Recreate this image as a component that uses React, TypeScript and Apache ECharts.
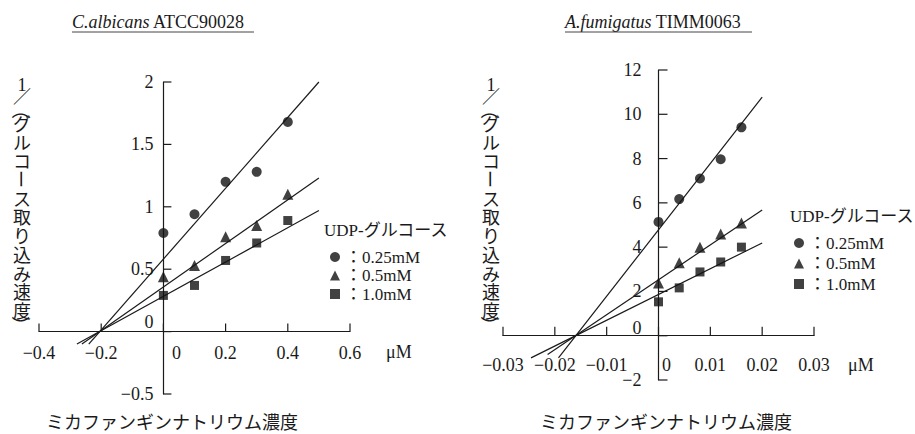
import React, { useEffect, useRef } from "react";
import * as echarts from "echarts";

// ---- data ----
const seriesNames = ["0.25mM", "0.5mM", "1.0mM"];
const seriesSymbols = ["circle", "triangle", "rect"];

// C.albicans ATCC90028
const caX = [0, 0.1, 0.2, 0.3, 0.4];
const caCircle = [0.79, 0.94, 1.2, 1.28, 1.68];
const caTriangle = [0.44, 0.53, 0.76, 0.85, 1.1];
const caSquare = [0.29, 0.37, 0.57, 0.71, 0.89];
const caFitCircle = [[-0.24, -0.1], [0.5, 2.0]];
const caFitTriangle = [[-0.262, -0.1], [0.5, 1.23]];
const caFitSquare = [[-0.278, -0.1], [0.5, 0.97]];
const caXAxis = [-0.4, 0.6, 0.2];
const caYAxis = [-0.5, 2, 0.5];
const caXTicks = [-0.4, -0.2, 0, 0.2, 0.4, 0.6];
const caYTicks = [-0.5, 0, 0.5, 1, 1.5, 2];

// A.fumigatus TIMM0063
const afX = [0, 0.004, 0.008, 0.012, 0.016];
const afCircle = [5.14, 6.17, 7.1, 7.97, 9.41];
const afTriangle = [2.38, 3.29, 4.0, 4.59, 5.09];
const afSquare = [1.53, 2.16, 2.88, 3.33, 4.0];
const afFitCircle = [[-0.0193, -1.0], [0.02, 10.77]];
const afFitTriangle = [[-0.0214, -0.85], [0.02, 5.68]];
const afFitSquare = [[-0.0246, -1.0], [0.02, 4.19]];
const afXAxis = [-0.03, 0.03, 0.01];
const afYAxis = [-2, 12, 2];
const afXTicks = [-0.03, -0.02, -0.01, 0, 0.01, 0.02, 0.03];
const afYTicks = [-2, 0, 2, 4, 6, 8, 10, 12];

const xUnit = "μM";
const legendTitle = "UDP-グルコース";
const xTitle = "ミカファンギンナトリウム濃度";
const yTitleHead = ["1", "／"];
const yTitleBody = ["グ", "ル", "コ", "ー", "ス", "取", "り", "込", "み", "速", "度"];
const yTitleOpen = "（";
const yTitleClose = "）";
const titleItalic = ["C.albicans", "A.fumigatus"];
const titleRest = [" ATCC90028", " TIMM0063"];

// ---- layout & styles ----
const ink = "#1a1a1a";
const serif = "'Liberation Serif', 'Noto Sans CJK JP', serif";
const cjk = "'Noto Sans CJK JP', sans-serif";
const gridA = { left: 39, top: 82, width: 311, height: 312 };
const gridB = { left: 503, top: 70, width: 311, height: 310 };
const tickPx = [8, 9];

function fmt(v: number) {
  if (Math.abs(v) < 1e-9) return "{z|0}";
  return String(+v.toFixed(4)).replace("-", "−");
}

const axisLineStyle = { show: true, onZero: false, lineStyle: { color: ink, width: 1.2 } };

function makeX(grid: number, g: any, range: number[], yRange: number[], margin: number, zeroShift: number) {
  const up = (g.height * (0 - yRange[0])) / (yRange[1] - yRange[0]);
  return {
    gridIndex: grid,
    type: "value",
    position: "bottom",
    offset: -up,
    min: range[0],
    max: range[1],
    interval: range[2],
    axisLine: axisLineStyle,
    axisTick: { show: false },
    splitLine: { show: false },
    axisLabel: {
      margin,
      formatter: fmt,
      color: ink,
      fontSize: 18,
      fontFamily: serif,
      rich: { z: { padding: [0, 0, 0, zeroShift * 2], fontSize: 18, fontFamily: serif, color: ink } },
    },
  };
}

function makeY(grid: number, g: any, range: number[], xRange: number[], margin: number, zeroUp: number) {
  const right = (g.width * (0 - xRange[0])) / (xRange[1] - xRange[0]);
  return {
    gridIndex: grid,
    type: "value",
    position: "left",
    offset: -right,
    min: range[0],
    max: range[1],
    interval: range[2],
    axisLine: axisLineStyle,
    axisTick: { show: false },
    splitLine: { show: false },
    axisLabel: {
      margin,
      formatter: fmt,
      color: ink,
      fontSize: 18,
      fontFamily: serif,
      rich: { z: { padding: [0, 0, zeroUp * 2, 0], fontSize: 18, fontFamily: serif, color: ink } },
    },
  };
}

// one short line series per tick, drawn in data space through the axes' scales
function tickLines(values: number[], dir: string, idx: number, g: any, xr: number[], yr: number[]) {
  const len = tickPx[idx];
  const dyUnits = (len * (yr[1] - yr[0])) / g.height;
  const dxUnits = (len * (xr[1] - xr[0])) / g.width;
  return values.map((v) => ({
    type: "line",
    name: "tick",
    xAxisIndex: idx,
    yAxisIndex: idx,
    symbol: "none",
    silent: true,
    clip: false,
    z: 4,
    lineStyle: { color: ink, width: 1.2 },
    data: dir === "x" ? [[v, 0], [v, dyUnits]] : [[0, v], [dxUnits, v]],
  }));
}

function scatter(name: string, symbol: string, xs: number[], ys: number[], idx: number) {
  return {
    type: "scatter",
    name,
    symbol,
    symbolSize: symbol === "triangle" ? 11 : symbol === "rect" ? 9 : 10,
    xAxisIndex: idx,
    yAxisIndex: idx,
    itemStyle: { color: "#111" },
    data: xs.map((x, i) => [x, ys[i]]),
    z: 3,
  };
}

function fit(data: number[][], idx: number) {
  return {
    type: "line",
    name: "fit",
    xAxisIndex: idx,
    yAxisIndex: idx,
    symbol: "none",
    clip: false,
    lineStyle: { color: ink, width: 1.2 },
    data,
    z: 2,
  };
}

function verticalTitle(cx: number) {
  const bodyStep = 18.7;
  const bodyTop = 123;
  const body = yTitleBody.map((c) => (c === "ー" ? " " : c)).join("\n");
  const dashIdx = yTitleBody.indexOf("ー");
  return [
    {
      type: "text",
      x: cx,
      y: 91,
      style: { text: yTitleHead.join("\n"), fill: ink, font: `18px ${serif}`, lineHeight: 12, align: "center", verticalAlign: "middle" },
    },
    {
      type: "text",
      x: cx,
      y: bodyTop - bodyStep / 2,
      style: { text: body, fill: ink, font: `18px ${cjk}`, lineHeight: bodyStep, align: "center", verticalAlign: "top" },
    },
    {
      type: "text",
      x: cx,
      y: bodyTop + dashIdx * bodyStep,
      rotation: -Math.PI / 2,
      style: { text: "ー", fill: ink, font: `18px ${cjk}`, lineHeight: 12, align: "center", verticalAlign: "middle" },
    },
    {
      type: "text",
      x: cx,
      y: 110,
      rotation: -Math.PI / 2,
      style: { text: yTitleOpen, fill: ink, font: `18px ${cjk}`, lineHeight: 12, align: "center", verticalAlign: "middle" },
    },
    {
      type: "text",
      x: cx,
      y: 325,
      rotation: -Math.PI / 2,
      style: { text: yTitleClose, fill: ink, font: `18px ${cjk}`, lineHeight: 12, align: "center", verticalAlign: "middle" },
    },
  ];
}

function title(i: number, x: number, underlineEnd: number) {
  return [
    {
      type: "text",
      x,
      y: 22,
      style: {
        text: `{i|${titleItalic[i]}}{r|${titleRest[i]}}`,
        rich: {
          i: { fontStyle: "italic", fontSize: 18, fontFamily: serif, fill: ink },
          r: { fontSize: 18, fontFamily: serif, fill: ink },
        },
        fill: ink,
        align: "left",
        verticalAlign: "middle",
      },
    },
    {
      type: "line",
      shape: { x1: x, y1: 32, x2: underlineEnd, y2: 32 },
      style: { stroke: "#444", lineWidth: 1 },
    },
  ];
}

function legend(left: number, top: number, gap: number) {
  return {
    orient: "vertical",
    left,
    top,
    itemWidth: 10,
    itemHeight: 10,
    itemGap: gap,
    selectedMode: false,
    formatter: (n: string) => "：" + n,
    textStyle: { color: ink, fontSize: 17, fontFamily: serif, lineHeight: 18 },
    data: seriesNames.map((n, i) => ({ name: n, icon: seriesSymbols[i], itemStyle: { color: "#111" } })),
  };
}

function plainText(text: string, x: number, y: number, font: string, align = "left") {
  return { type: "text", x, y, style: { text, fill: ink, font, align, verticalAlign: "middle", lineHeight: 18 } };
}

export default function App() {
  const ref = useRef<HTMLDivElement>(null);
  useEffect(() => {
    if (!ref.current) return;
    const chart = echarts.init(ref.current, undefined, { renderer: "svg" });
    chart.setOption({
      animation: false,
      backgroundColor: "#fff",
      grid: [gridA, gridB],
      xAxis: [makeX(0, gridA, caXAxis, caYAxis, 12, 13), makeX(1, gridB, afXAxis, afYAxis, 20, 8)],
      yAxis: [makeY(0, gridA, caYAxis, caXAxis, 10, 10), makeY(1, gridB, afYAxis, afXAxis, 17, 8)],
      legend: [legend(325, 243, 0.5), legend(789, 229, 2.5)],
      series: [
        ...tickLines(caXTicks, "x", 0, gridA, caXAxis, caYAxis),
        ...tickLines(caYTicks, "y", 0, gridA, caXAxis, caYAxis),
        ...tickLines(afXTicks, "x", 1, gridB, afXAxis, afYAxis),
        ...tickLines(afYTicks, "y", 1, gridB, afXAxis, afYAxis),
        fit(caFitCircle, 0),
        fit(caFitTriangle, 0),
        fit(caFitSquare, 0),
        scatter(seriesNames[0], seriesSymbols[0], caX, caCircle, 0),
        scatter(seriesNames[1], seriesSymbols[1], caX, caTriangle, 0),
        scatter(seriesNames[2], seriesSymbols[2], caX, caSquare, 0),
        fit(afFitCircle, 1),
        fit(afFitTriangle, 1),
        fit(afFitSquare, 1),
        scatter(seriesNames[0], seriesSymbols[0], afX, afCircle, 1),
        scatter(seriesNames[1], seriesSymbols[1], afX, afTriangle, 1),
        scatter(seriesNames[2], seriesSymbols[2], afX, afSquare, 1),
      ],
      graphic: [
        ...title(0, 72, 254),
        ...title(1, 565, 752),
        ...verticalTitle(22),
        ...verticalTitle(491),
        plainText(legendTitle, 324, 230, `17px ${serif}`),
        plainText(legendTitle, 790, 216, `17px ${serif}`),
        plainText(xUnit, 386, 352, `18px ${serif}`),
        plainText(xUnit, 848, 365, `18px ${serif}`),
        plainText(xTitle, 172, 421, `18px ${cjk}`, "center"),
        plainText(xTitle, 666, 421, `18px ${cjk}`, "center"),
      ],
    });
    return () => chart.dispose();
  }, []);
  return (
    <div
      ref={ref}
      style={{ position: "fixed", left: 0, top: 0, width: 915, height: 434, background: "#fff" }}
    />
  );
}
